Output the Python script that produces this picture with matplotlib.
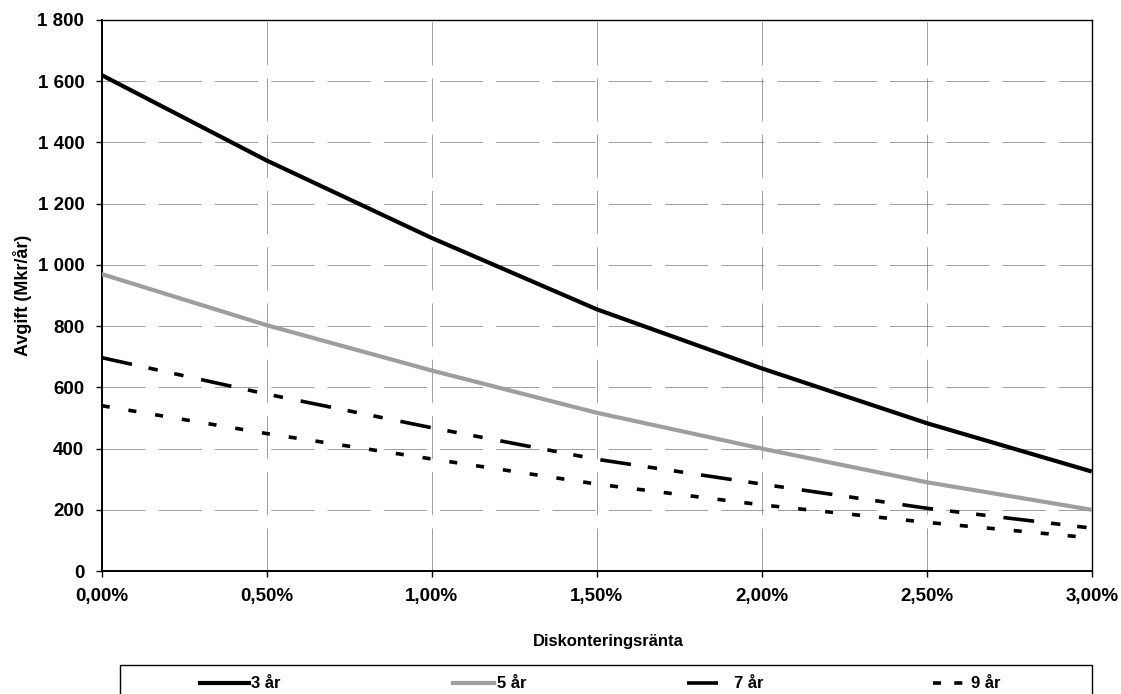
"""
Avgift vs diskonteringsränta for different payment periods (recreated chart).
"""
import matplotlib
matplotlib.use("Agg")
import matplotlib.pyplot as plt
from matplotlib.lines import Line2D
from matplotlib.patches import Rectangle
from matplotlib.ticker import FuncFormatter, MultipleLocator

plt.rcParams["font.family"] = ["Liberation Sans", "DejaVu Sans"]
plt.rcParams["lines.scale_dashes"] = False

# values
rates = [0.0, 0.5, 1.0, 1.5, 2.0, 2.5, 3.0]  # diskonteringsränta, %
fee_3 = [1620, 1341, 1088, 855, 662, 483, 325]
fee_5 = [970, 803, 655, 517, 400, 290, 200]
fee_7 = [697, 578, 468, 365, 284, 205, 140]
fee_9 = [540, 449, 366, 284, 216, 159, 108]
series_labels = ["3 år", "5 år", "7 år", "9 år"]

W, H = 1121, 694
fig = plt.figure(figsize=(W / 100, H / 100), dpi=100)
ax_left, ax_right, ax_top, ax_bottom = 101.7, 1091.7, 20, 571
ax = fig.add_axes([ax_left / W, 1 - ax_bottom / H, (ax_right - ax_left) / W, (ax_bottom - ax_top) / H])

dash_7 = (22.3, 12.2, 6.8, 12.2, 6.8, 13.0)
dash_9 = (5.8, 13.7)

l3, = ax.plot(rates, fee_3, color="black", lw=3.0, solid_capstyle="butt", zorder=5)
l5, = ax.plot(rates, fee_5, color="#9e9e9e", lw=3.0, solid_capstyle="butt", zorder=4)
l7, = ax.plot(rates, fee_7, color="black", lw=2.6, dashes=dash_7, zorder=4)
l9, = ax.plot(rates, fee_9, color="black", lw=2.6, dashes=dash_9, zorder=4)

ax.set_xlim(0, 3)
ax.set_ylim(0, 1800)
ax.xaxis.set_major_locator(MultipleLocator(0.5))
ax.yaxis.set_major_locator(MultipleLocator(200))
ax.xaxis.set_major_formatter(FuncFormatter(lambda v, p: f"{v:.2f}%".replace(".", ",")))
ax.yaxis.set_major_formatter(FuncFormatter(lambda v, p: f"{v:,.0f}".replace(",", " ")))

ax.tick_params(axis="both", direction="out", length=4, width=1, pad=8.5,
               labelsize=13.5, colors="black")
for lab in ax.get_xticklabels() + ax.get_yticklabels():
    lab.set_fontweight("bold")

# dashed grid, like the Excel original (thin, dotted-looking)
ax.grid(True, color="#777777", lw=0.5, dashes=(31, 9.5), zorder=1)
ax.set_axisbelow(True)

for side in ("left", "bottom"):
    ax.spines[side].set_linewidth(1.4)
for side in ("top", "right"):
    ax.spines[side].set_linewidth(1.0)

ax.set_xlabel("Diskonteringsränta", fontsize=12, fontweight="bold")
ax.xaxis.set_label_coords((608 - ax_left) / (ax_right - ax_left), (ax_bottom - 641.7) / (ax_bottom - ax_top))
ax.xaxis.label.set_verticalalignment("center")
ax.set_ylabel("Avgift (Mkr/år)", fontsize=13, fontweight="bold")
ax.yaxis.set_label_coords((22 - ax_left) / (ax_right - ax_left), 0.5)
ax.yaxis.label.set_verticalalignment("center")

# legend box at the bottom, cut off by the figure edge
box_top = 665
fig.patches.append(Rectangle((120 / W, -0.05), (1092 - 120) / W, 0.05 + 1 - box_top / H,
                             transform=fig.transFigure, fill=False, edgecolor="black", lw=1.0))

entry_x = [200, 453, 687, 933]
handle_len = [2.95, 2.45, 2.75, 2.2]
text_pad = [0.12, 0.2, 0.1, 0.1]
legend_dashes = [None, None, dash_7, (5.8, 9.5)]
for line, label, x0, hl, tp, dsh in zip([l3, l5, l7, l9], series_labels, entry_x,
                                         handle_len, text_pad, legend_dashes):
    h = Line2D([], [], color=line.get_color(), lw=line.get_linewidth())
    if dsh is not None:
        h.set_dashes(dsh)
    fig.legend(handles=[h], labels=[label], loc="center left",
               bbox_to_anchor=(x0 / W, 1 - 684 / H), frameon=False,
               borderaxespad=0, borderpad=0, handlelength=hl, handletextpad=tp,
               prop={"size": 12, "weight": "bold"})

fig.savefig("out.png", dpi=100)
